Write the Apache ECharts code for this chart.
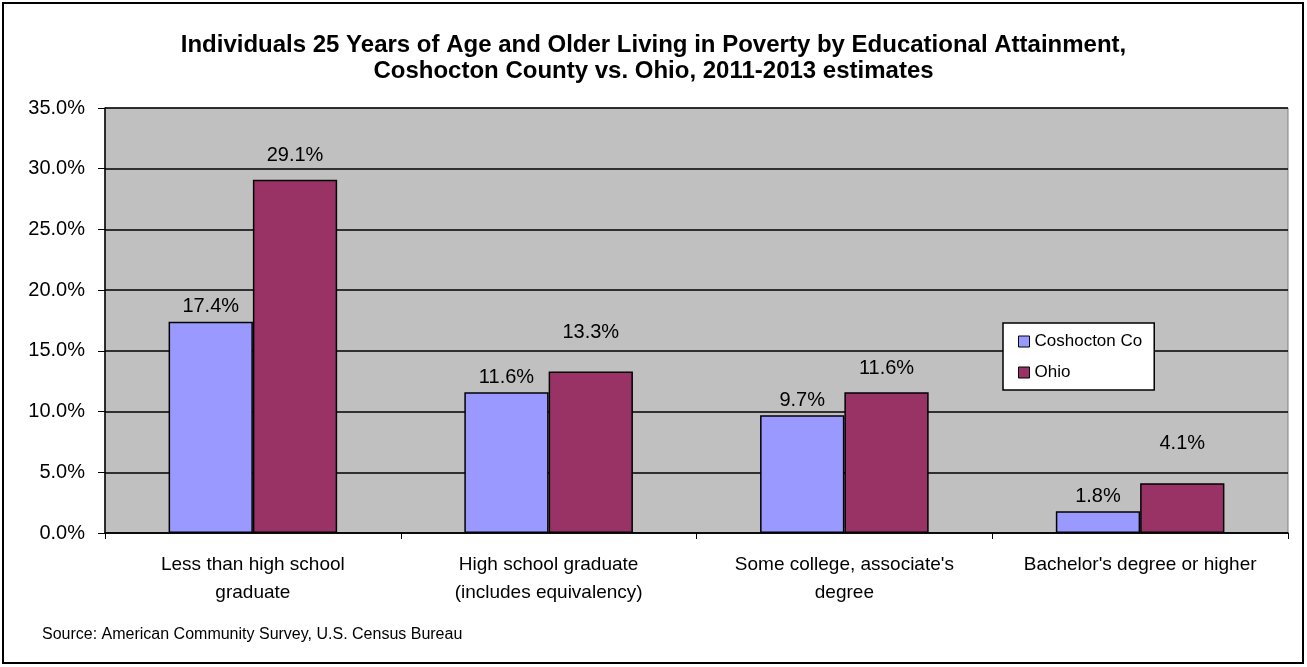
<!DOCTYPE html>
<html><head><meta charset="utf-8">
<script src="https://cdn.jsdelivr.net/npm/echarts@6/dist/echarts.min.js"></script>
<style>html,body{margin:0;padding:0;background:#fff}#c{width:1307px;height:667px}</style>
</head><body><div id="c"></div>
<script>
const categories = ["Less than high school\ngraduate", "High school graduate\n(includes equivalency)", "Some college, associate's\ndegree", "Bachelor's degree or higher"];
const coshocton = [17.4, 11.6, 9.7, 1.8];
const ohio = [29.1, 13.3, 11.6, 4.1];
const seriesNames = ["Coshocton Co", "Ohio"];
const titleText = "Individuals 25 Years of Age and Older Living in Poverty by Educational Attainment,\nCoshocton County vs. Ohio, 2011-2013 estimates";
const sourceText = "Source: American Community Survey, U.S. Census Bureau";

const chart = echarts.init(document.getElementById('c'), null, {renderer: 'canvas'});
const font = "Liberation Sans, Arial, sans-serif";
const ohioLabelShift = [-9, -24, -9, -25];
chart.setOption({
  animation: false,
  textStyle: {fontFamily: font},
  graphic: [
    {type: 'rect', shape: {x: 3, y: 3, width: 1300, height: 660}, style: {fill: 'none', stroke: '#000', lineWidth: 2}, z: 10},
    {type: 'text', left: 42, top: 627, style: {text: sourceText, font: '16px ' + font, fill: '#000'}}
  ],
  title: {
    text: titleText, left: 'center', top: 27,
    textStyle: {fontFamily: font, fontSize: 24, fontWeight: 'bold', color: '#000', lineHeight: 26, align: 'center'}
  },
  legend: {
    data: seriesNames, orient: 'vertical', left: 1003, top: 323,
    backgroundColor: '#fff', borderColor: '#000', borderWidth: 1.5, padding: [10, 12, 9, 15],
    itemWidth: 11, itemHeight: 11, itemGap: 14, icon: 'rect',
    itemStyle: {borderColor: '#000', borderWidth: 1},
    textStyle: {fontFamily: font, fontSize: 17, color: '#000', letterSpacing: 2}
  },
  grid: {left: 105, right: 19, top: 108, bottom: 134, backgroundColor: '#C0C0C0', show: true, borderColor: '#808080', borderWidth: 1},
  xAxis: {
    type: 'category', data: categories,
    axisLine: {lineStyle: {color: '#000', width: 1.5}},
    axisTick: {show: true, length: 6, lineStyle: {color: '#000'}},
    axisLabel: {interval: 0, hideOverlap: false, fontFamily: font, fontSize: 19, color: '#000', lineHeight: 28, margin: 18}
  },
  yAxis: {
    type: 'value', min: 0, max: 35, interval: 5,
    axisLine: {show: true, lineStyle: {color: '#000', width: 1.5}},
    axisTick: {show: true, length: 7, lineStyle: {color: '#000'}},
    splitLine: {lineStyle: {color: '#000', width: 1.5}},
    axisLabel: {fontFamily: font, fontSize: 20, color: '#000', margin: 20, formatter: v => v.toFixed(1) + '%'}
  },
  series: [
    {name: seriesNames[0], type: 'bar', data: coshocton, barGap: '0%', barCategoryGap: '43%',
     itemStyle: {color: '#9999FF', borderColor: '#000', borderWidth: 1.5},
     label: {show: true, position: 'top', distance: 5, fontFamily: font, fontSize: 20, color: '#000', formatter: p => p.value.toFixed(1) + '%'}},
    {name: seriesNames[1], type: 'bar',
     data: ohio.map((v, i) => ({value: v, label: {offset: [0, ohioLabelShift[i]]}})),
     itemStyle: {color: '#993366', borderColor: '#000', borderWidth: 1.5},
     label: {show: true, position: 'top', distance: 5, fontFamily: font, fontSize: 20, color: '#000', formatter: p => p.value.toFixed(1) + '%'}}
  ]
});
</script></body></html>
